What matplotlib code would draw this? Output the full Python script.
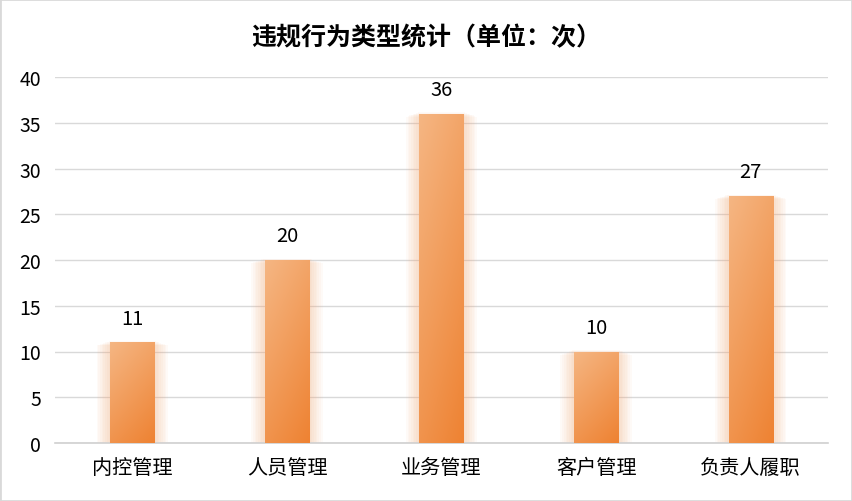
import matplotlib.pyplot as plt
import numpy as np
from matplotlib.colors import LinearSegmentedColormap
from matplotlib.patches import Rectangle

plt.rcParams['font.family'] = ['Noto Sans CJK SC', 'DejaVu Sans']

categories = ['内控管理', '人员管理', '业务管理', '客户管理', '负责人履职']
counts = [11, 20, 36, 10, 27]
yticks = [0, 5, 10, 15, 20, 25, 30, 35, 40]

fig = plt.figure(figsize=(8.52, 5.02), dpi=100)
ax = fig.add_axes([55 / 852, 1 - 444 / 502, 773 / 852, 366 / 502])

x = np.arange(len(categories))
width = 0.285

# 渐变色：左上浅橙，右下深橙
cmap = LinearSegmentedColormap.from_list('og', ['#F5B683', '#EE8232'])
gx, gy = np.meshgrid(np.linspace(0, 1, 60), np.linspace(0, 1, 200))
grad = (gx * 0.6 + gy * 1.2) / 1.8

bars = ax.bar(x, counts, width=width, color='none', zorder=3)
for b in bars:
    x0, w, h = b.get_x(), b.get_width(), b.get_height()
    # 柔和光晕
    for k in range(8):
        pad = 0.011 * (k + 1)
        ax.add_patch(Rectangle((x0 - pad, 0), w + 2 * pad, h - pad * 6 + 0.2,
                               color='#F7A870', alpha=0.05, lw=0, zorder=2))
    im = ax.imshow(grad, cmap=cmap, extent=[x0, x0 + w, 0, h], origin='upper',
                   aspect='auto', zorder=3)
    im.set_clip_path(b)
    ax.text(b.get_x() + w / 2, h + 1.5, str(h), ha='center', va='bottom',
            fontsize=14.5, color='black', zorder=4)

ax.set_xlim(-0.5, len(categories) - 0.5)
ax.set_ylim(0, 40)
ax.set_yticks(yticks)
ax.set_xticks(x)
ax.set_xticklabels(categories, fontsize=14.5)
ax.tick_params(axis='y', labelsize=14, length=0, pad=10)
ax.tick_params(axis='x', length=0, pad=10)
ax.grid(axis='y', color='#D9D9D9', lw=1, zorder=0)
ax.set_axisbelow(True)
for s in ['top', 'right', 'left']:
    ax.spines[s].set_visible(False)
ax.spines['bottom'].set_color('#D0D0D0')
ax.spines['bottom'].set_linewidth(1.2)

fig.text(0.5, 1 - 38 / 502, '违规行为类型统计（单位：次）', ha='center', va='center',
         fontsize=18, fontweight='bold')

fig.patches.append(Rectangle((0, 0), 1, 1, transform=fig.transFigure, fill=False,
                             edgecolor='#D9D9D9', lw=2))

fig.savefig('out.png', dpi=100)
